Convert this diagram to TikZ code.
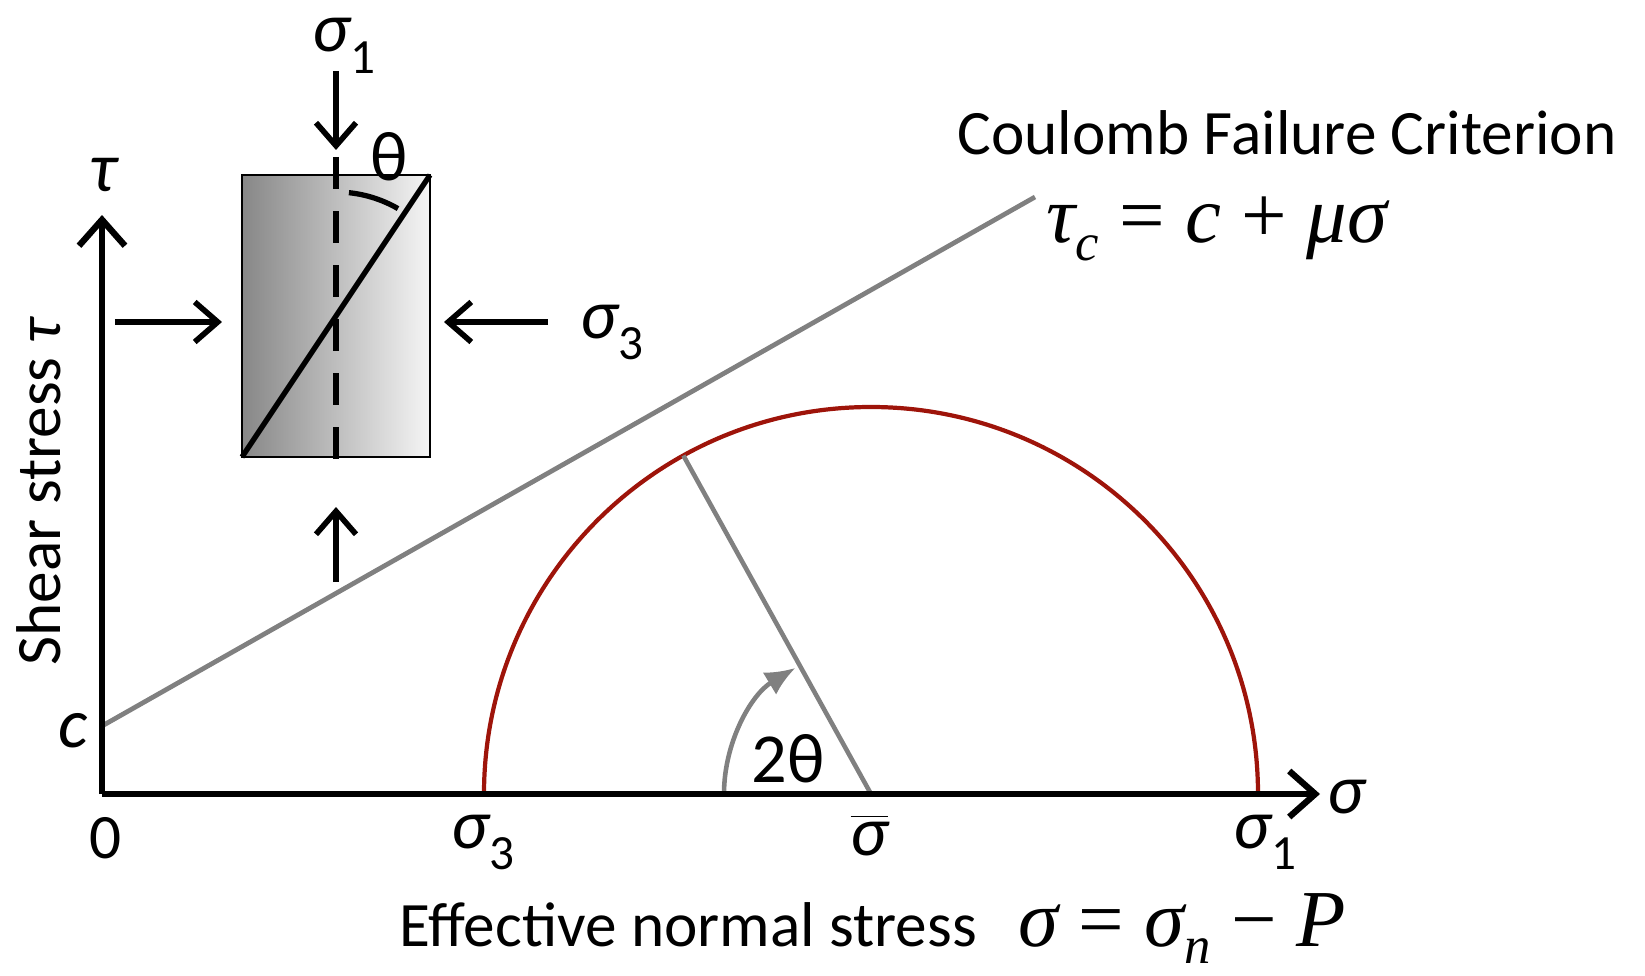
\documentclass[tikz,border=0pt]{standalone}
\usepackage{fontspec}
\setmainfont{Carlito}
\newfontfamily\timesfont{Liberation Serif}
\usepackage{tikz}
\usetikzlibrary{arrows.meta,calc,positioning}
\definecolor{darkred}{rgb}{0.62,0.08,0.04}
\definecolor{linegray}{gray}{0.5}
\newcommand{\lowidx}[1]{\raisebox{-6pt}{\fontsize{14}{14}\selectfont\upshape #1}}
\newcommand{\eqidx}[1]{\raisebox{-5pt}{\fontsize{15}{15}\selectfont #1}}
\tikzset{
  axisline/.style={line width=1.8pt,-{Straight Barb[length=2.6mm,width=4.6mm,line width=1.8pt]}},
  force/.style={line width=1.6pt,-{Straight Barb[length=2.3mm,width=4mm,line width=1.6pt]}},
  greek/.style={font=\fontsize{20}{22}\selectfont\itshape,inner sep=0pt,anchor=base west},
  txt/.style={font=\fontsize{18}{20}\selectfont,inner sep=0pt,anchor=base west},
  eq/.style={font=\fontsize{23}{25}\selectfont\timesfont\itshape,inner sep=0pt,anchor=base west}
}

\begin{document}
\begin{tikzpicture}
                      \useasboundingbox (-1.02,-1.81) rectangle (15.43,7.94);
                      % axes and points on them
                      \coordinate (O) at (0,0);
                      \coordinate (xend) at (12.18,0);
                      \coordinate (yend) at (0,5.79);
                      \coordinate (c) at (0,0.68);
                      \coordinate (lineend) at (9.33,5.97);
                      \coordinate (s3) at (3.82,0);
                      \coordinate (s1) at (11.56,0);
                      \coordinate (sbar) at (7.69,0);
                      \coordinate (pole) at ($(sbar)+(119:3.87)$);
                      \coordinate (arcstart) at ($(sbar)+(180:1.47)$);
                      % Coulomb failure line
                      \draw[linegray,line width=1.35pt] (c) -- (lineend);
                      % Mohr circle
                      \draw[darkred,line width=1.2pt] (s3) arc (180:0:3.87);
                      \draw[linegray,line width=1.3pt] (sbar) -- (pole);
                      \draw[linegray,line width=1.3pt,-{Latex[length=3mm,width=2.6mm]}] (arcstart) arc (180:121:1.47);
                      \draw[axisline] (O) -- (xend);
                      \draw[axisline] (O) -- (yend);
                      % label the axes
                      \node[greek] (taulbl) at (-0.13,6.02) {τ};
                      \node[greek] (sigmalbl) at (12.25,-0.19) {σ};
                      \node[txt] (zerolbl) at (-0.13,-0.64) {0};
                      \node[greek] (clbl) at (-0.44,0.47) {c};
                      \node[txt,rotate=90] (shearlbl) at (-0.41,1.28) {Shear stress \itshape τ};
                      \node[greek] (s3lbl) at (3.49,-0.54) {σ\lowidx{3}};
                      \node[greek] (sbarlbl) at (7.48,-0.61) {$\overline{\hbox{\itshape σ}}$};
                      \node[greek] (s1lbl) at (11.31,-0.54) {σ\lowidx{1}};
                      \node[greek] (anglelbl) at (6.49,0.12) {\upshape 2θ};
                      \node[txt] (normallbl) at (2.97,-1.52) {Effective normal stress\hspace{0.42cm}{\fontsize{23}{25}\selectfont\timesfont\itshape σ \upshape= \itshape σ\eqidx{n} \upshape− \itshape P}};
                      % Label the criterion
                      \node[txt] (coulomblbl) at (8.55,6.40) {Coulomb Failure Criterion};
                      \node[eq] (criterion) at (9.44,5.51) {τ\eqidx{c} \upshape= \itshape c \upshape+ \itshape μσ};
                      % the rock sample
                      \coordinate (bl) at (1.40,3.37);
                      \coordinate (tr) at (3.28,6.19);
                      \coordinate (mid) at (2.34,4.78);
                      \coordinate (dashtop) at (2.34,6.37);
                      \coordinate (dashbot) at (2.34,3.22);
                      \shade[left color=black!47,right color=black!4] (bl) rectangle (tr);
                      \draw[line width=0.6pt] (bl) rectangle (tr);
                      \draw[line width=1.5pt] (bl) -- (tr);
                      \draw[line width=1.5pt,dash pattern=on 3.2mm off 2.2mm] (dashtop) -- (dashbot);
                      \draw[line width=1.5pt] ($(mid)+(84:1.24)$) arc (84:60:1.24);
                      \node[greek] (thetalbl) at (2.68,6.14) {\upshape θ};
                      % forces on the sample
                      \coordinate (topa) at (2.34,7.23);
                      \coordinate (topb) at (2.34,6.44);
                      \coordinate (bota) at (2.34,2.12);
                      \coordinate (botb) at (2.34,2.87);
                      \coordinate (lefta) at (0.13,4.72);
                      \coordinate (leftb) at (1.20,4.72);
                      \coordinate (righta) at (4.46,4.72);
                      \coordinate (rightb) at (3.42,4.72);
                      \draw[force] (topa) -- (topb);
                      \draw[force] (bota) -- (botb);
                      \draw[force] (lefta) -- (leftb);
                      \draw[force] (righta) -- (rightb);
                      \node[greek] (topsig) at (2.10,7.42) {σ\lowidx{1}};
                      \node[greek] (rightsig) at (4.78,4.56) {σ\lowidx{3}};
                  \end{tikzpicture}
\end{document}
